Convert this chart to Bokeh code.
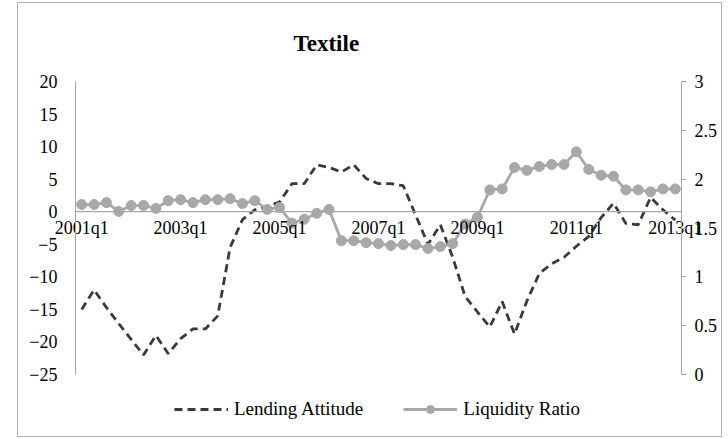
from bokeh.plotting import figure
from bokeh.models import LinearAxis, Range1d, FixedTicker, Legend, LegendItem, Span
from bokeh.embed import file_html
from bokeh.resources import INLINE

# ---- data ----
quarters = [f"{y}q{q}" for y in range(2001, 2014) for q in range(1, 5)][:49]
tick_labels = ["2001q1", "2003q1", "2005q1", "2007q1", "2009q1", "2011q1", "2013q1"]

lending_attitude = [-15, -12, -14.7, -17.2, -19.6, -22, -19, -21.8, -19.5, -18, -18, -16,
                    -5.5, -1.2, 0.3, 0.8, 1.5, 4.3, 4.3, 7.2, 6.8, 6.1, 7.2, 5.1, 4.3, 4.3, 4.0,
                    -0.5, -5, -2, -7, -13, -15.4, -17.7, -13.8, -18.8, -13.7, -9.5, -8, -7,
                    -5.3, -3.8, -0.9, 1.3, -1.8, -2, 2.2, 0.3, -1.3]

liquidity_ratio = [1.74, 1.74, 1.76, 1.67, 1.73, 1.73, 1.70, 1.78, 1.79, 1.76, 1.79, 1.79, 1.80,
                   1.75, 1.78, 1.69, 1.71, 1.55, 1.59, 1.65, 1.69,
                   1.37, 1.37, 1.35, 1.34, 1.32, 1.33, 1.33, 1.29, 1.31, 1.34,
                   1.54, 1.61,
                   1.89, 1.90, 2.12, 2.09, 2.13, 2.15, 2.15, 2.28, 2.10, 2.04, 2.03,
                   1.89, 1.89, 1.87, 1.90, 1.90]

left_ticks = [-25, -20, -15, -10, -5, 0, 5, 10, 15, 20]
right_ticks = [0, 0.5, 1, 1.5, 2, 2.5, 3]

x = list(range(len(quarters)))
tick_pos = [quarters.index(t) for t in tick_labels]

FONT = "Liberation Serif"
AXIS_GRAY = "#a6a6a6"

# ---- layout (pixels) ----
FIG_X, FIG_Y, FIG_W, FIG_H = 17, 2, 705, 435
AX_TOP, AX_BOT, FRAME_BOT = 80, 373, 432          # value-axis extent and frame bottom
L_MIN, L_MAX = left_ticks[0], left_ticks[-1]
R_MIN, R_MAX = right_ticks[0], right_ticks[-1]
extra = (FRAME_BOT - AX_BOT) / (AX_BOT - AX_TOP)
left_start = L_MIN - extra * (L_MAX - L_MIN)
right_start = R_MIN - extra * (R_MAX - R_MIN)

p = figure(width=FIG_W, height=FIG_H,
           x_range=Range1d(-0.5, len(quarters) - 0.5), y_range=Range1d(left_start, L_MAX),
           output_backend="svg", toolbar_location=None,
           min_border_left=74 - FIG_X, min_border_right=FIG_X + FIG_W - 680,
           min_border_top=AX_TOP - FIG_Y, min_border_bottom=FIG_Y + FIG_H - FRAME_BOT)
p.margin = (FIG_Y, 0, 0, FIG_X)
p.styles = {"border": "1px solid #b4b4b4"}
p.outline_line_color = None
p.xgrid.grid_line_color = None
p.ygrid.grid_line_color = None

# title
p.title.text = "Textile"
p.title.align = "left"
p.title.offset = 218
p.title.vertical_align = "top"
p.title.standoff = 47
p.title.text_font = FONT
p.title.text_font_size = "23px"
p.title.text_font_style = "bold"
p.title.text_color = "black"

# horizontal axis line at zero
p.add_layout(Span(location=0, dimension="width", line_color=AXIS_GRAY, line_width=1.2))

# x axis: labels lifted up to sit just under the zero line
xa = p.xaxis[0]
xa.ticker = FixedTicker(ticks=tick_pos)
xa.major_label_overrides = {pos: lab for pos, lab in zip(tick_pos, tick_labels)}
xa.major_tick_line_color = None
xa.major_tick_in = 0
xa.major_tick_out = 0
xa.minor_tick_line_color = None
xa.axis_line_color = None
xa.major_label_text_font = FONT
xa.major_label_text_font_size = "18px"
xa.major_label_text_color = "black"
xa.major_label_standoff = -216

# left axis
ya = p.yaxis[0]
ya.ticker = FixedTicker(ticks=left_ticks)
ya.bounds = (L_MIN, L_MAX)
ya.major_tick_line_color = None
ya.minor_tick_line_color = None
ya.axis_line_color = AXIS_GRAY
ya.major_label_text_font = FONT
ya.major_label_text_font_size = "18px"
ya.major_label_text_color = "black"
ya.major_label_standoff = 12

# right axis
p.extra_y_ranges = {"liq": Range1d(right_start, R_MAX)}
ra = LinearAxis(y_range_name="liq", ticker=FixedTicker(ticks=right_ticks))
ra.bounds = (R_MIN, R_MAX)
ra.major_tick_in = 0
ra.major_tick_out = 5
ra.major_tick_line_color = AXIS_GRAY
ra.minor_tick_line_color = None
ra.axis_line_color = AXIS_GRAY
ra.major_label_text_font = FONT
ra.major_label_text_font_size = "18px"
ra.major_label_text_color = "black"
ra.major_label_standoff = 8
p.add_layout(ra, "right")

# series
l1 = p.line(x, lending_attitude, line_color="#3a3a3a", line_width=2.8, line_dash="8 5")
l2 = p.line(x, liquidity_ratio, y_range_name="liq", line_color="#a8a8a8", line_width=2.8)
s2 = p.scatter(x, liquidity_ratio, y_range_name="liq", size=10,
               fill_color="#a8a8a8", line_color="#a8a8a8")

legend = Legend(items=[LegendItem(label="Lending Attitude", renderers=[l1]),
                       LegendItem(label="Liquidity Ratio", renderers=[l2, s2])],
                orientation="horizontal", location=(99, 13),
                glyph_width=54, spacing=40, label_standoff=6, padding=4, margin=0,
                label_text_font=FONT, label_text_font_size="19px", label_text_color="black",
                border_line_color=None, background_fill_alpha=0)
p.add_layout(legend)

open("out.html", "w").write(file_html(p, INLINE))
